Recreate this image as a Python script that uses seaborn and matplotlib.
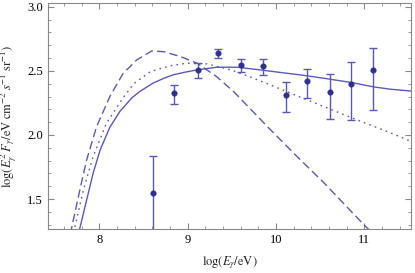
import numpy as np
import pandas as pd
import matplotlib
matplotlib.use("Agg")
import matplotlib.pyplot as plt
from matplotlib.ticker import MultipleLocator, FormatStrFormatter
import seaborn as sns

# model curves
solid_x = [7.74, 7.78, 7.857, 7.93, 8.01, 8.12, 8.235, 8.37, 8.46, 8.61, 8.74, 8.84,
           8.97, 9.11, 9.33, 9.56, 9.80, 10.05, 10.30, 10.55, 10.85, 11.11, 11.30, 11.53]
solid_y = [1.156, 1.271, 1.492, 1.70, 1.883, 2.06, 2.185, 2.29, 2.34, 2.405, 2.445, 2.47,
           2.49, 2.508, 2.529, 2.529, 2.51, 2.488, 2.467, 2.442, 2.41, 2.375, 2.357, 2.343]

dashed_x = [7.64, 7.686, 7.78, 7.857, 7.97, 8.12, 8.27, 8.425, 8.595, 8.73, 8.92, 9.11,
            9.33, 9.52, 9.94, 10.26, 10.55, 11.0, 11.1]
dashed_y = [1.13, 1.27, 1.57, 1.805, 2.065, 2.30, 2.48, 2.586, 2.656, 2.65, 2.612, 2.56,
            2.455, 2.34, 2.04, 1.818, 1.623, 1.297, 1.23]

dotted_x = [7.68, 7.72, 7.82, 7.93, 8.08, 8.27, 8.39, 8.58, 8.80, 8.99, 9.22, 9.49,
            9.72, 9.94, 10.26, 10.55, 10.93, 11.25, 11.53]
dotted_y = [1.15, 1.27, 1.57, 1.83, 2.09, 2.29, 2.40, 2.495, 2.54, 2.56, 2.555, 2.508,
            2.45, 2.39, 2.30, 2.22, 2.115, 2.03, 1.95]

# measured points with error bars
data_x = [8.61, 8.85, 9.12, 9.35, 9.61, 9.85, 10.11, 10.35, 10.61, 10.85, 11.10]
data_y = [1.545, 2.326, 2.508, 2.64, 2.55, 2.537, 2.312, 2.422, 2.338, 2.40, 2.505]
data_hi = [1.834, 2.393, 2.565, 2.674, 2.596, 2.594, 2.416, 2.518, 2.477, 2.57, 2.682]
data_lo = [1.10, 2.24, 2.443, 2.60, 2.49, 2.469, 2.177, 2.287, 2.127, 2.117, 2.198]

line_color = "#5a5ab4"
point_color = "#2f2f8f"

sns.set_theme(style="ticks")
plt.rcParams["font.family"] = ["Liberation Serif", "DejaVu Serif"]
plt.rcParams["mathtext.fontset"] = "stix"

fig = plt.figure(figsize=(4.15, 2.73), dpi=100)
ax = fig.add_axes([0.1157, 0.161, 0.8747, 0.828])

curves = {"solid": (solid_x, solid_y, "-"),
          "dashed": (dashed_x, dashed_y, (0, (6, 3))),
          "dotted": (dotted_x, dotted_y, (0, (1.2, 3)))}
for name, (cx, cy, ls) in curves.items():
    df = pd.DataFrame({"x": cx, "y": cy})
    sns.lineplot(data=df, x="x", y="y", ax=ax, color=line_color, lw=1.0,
                 linestyle=ls, sort=False, estimator=None)

yerr = [np.array(data_y) - np.array(data_lo), np.array(data_hi) - np.array(data_y)]
ax.errorbar(data_x, data_y, yerr=yerr, fmt="none", ecolor=line_color,
            elinewidth=1.0, capsize=3, capthick=1.0)
pts = pd.DataFrame({"x": data_x, "y": data_y})
sns.scatterplot(data=pts, x="x", y="y", ax=ax, color=point_color, s=16,
                edgecolor=point_color, zorder=5)

ax.set_xlim(7.42, 11.53)
ax.set_ylim(1.266, 3.03)
ax.xaxis.set_major_locator(MultipleLocator(1))
ax.xaxis.set_minor_locator(MultipleLocator(0.2))
ax.yaxis.set_major_locator(MultipleLocator(0.5))
ax.yaxis.set_minor_locator(MultipleLocator(0.1))
ax.yaxis.set_major_formatter(FormatStrFormatter("%.1f"))

for s in ax.spines.values():
    s.set_color("#888888")
    s.set_linewidth(0.8)
ax.tick_params(which="both", direction="in", top=True, right=True,
               color="#888888", labelsize=9, labelcolor="black")
ax.tick_params(which="major", length=4, width=0.8)
ax.tick_params(which="minor", length=2, width=0.6)

ax.set_xlabel(r"$\mathrm{log}(E_\gamma/\mathrm{eV})$", fontsize=9, labelpad=6)
ax.set_ylabel(r"$\mathrm{log}(E_\gamma^2\;F_\gamma/\mathrm{eV\;cm}^{-2}\;s^{-1}\;\mathrm{sr}^{-1})$",
              fontsize=9, labelpad=6)

fig.savefig("out.png", dpi=100)
